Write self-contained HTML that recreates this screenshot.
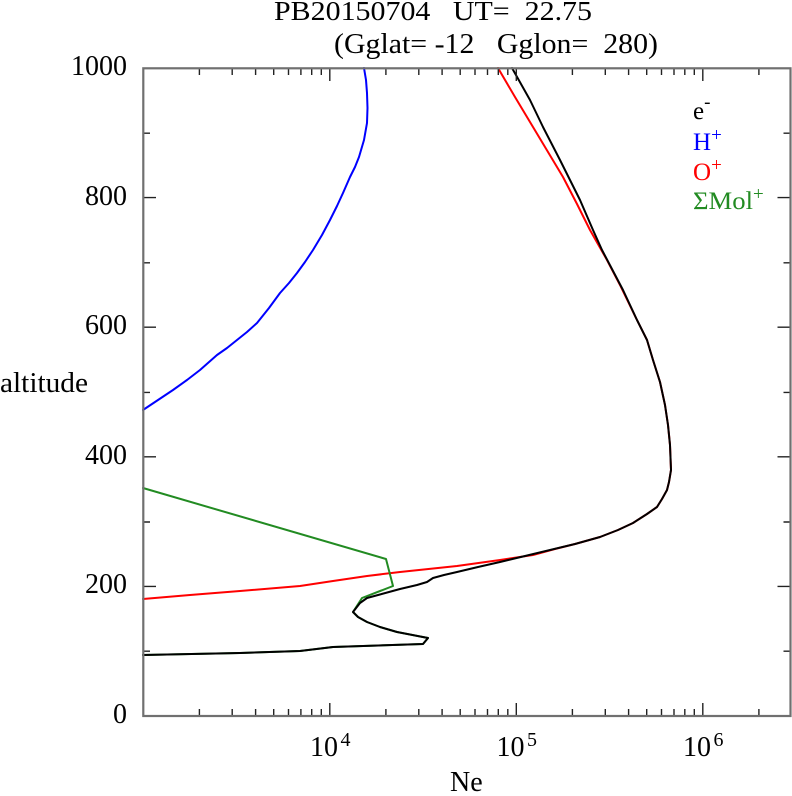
<!DOCTYPE html>
<html>
<head>
<meta charset="utf-8">
<style>
  html, body { margin: 0; padding: 0; background: #ffffff; }
  svg { display: block; }
  text { font-family: "Liberation Serif", "DejaVu Serif", serif; fill: #000; }
</style>
</head>
<body>
<svg width="792" height="796" viewBox="0 0 792 796" xmlns="http://www.w3.org/2000/svg">
  <rect x="0" y="0" width="792" height="796" fill="#ffffff"/>

  <!-- Title -->
  <text x="274" y="20" font-size="27" textLength="318" lengthAdjust="spacingAndGlyphs" xml:space="preserve">PB20150704   UT=  22.75</text>
  <text x="334" y="53" font-size="28" textLength="324" lengthAdjust="spacingAndGlyphs" xml:space="preserve">(Gglat= -12   Gglon=  280)</text>

  <!-- Curves -->
  <g fill="none" stroke-width="2" stroke-linejoin="round" stroke-linecap="round">
    <polyline stroke="#0000ff" points="364,68 366,80 367,93 367.5,108 367,123 364,140 359,157 355,167 350,177 343,193 337,206 330,220 322,235 313,250 305,262 297,273 289,283 280,293 269,308 257,323 247,332 237,340 227,348 217,355 200,370 187,380 173,390 158,400 143,410"/>
    <polyline stroke="#ff0000" points="498,68 515,97 533,127 548,152 563,177 577,204 590,230 607,260 620,285 637,320 647,340 653,360 660,382 665,405 668,425 670,445 671,470 669,482 667,490 662,499 657,507 647,514 633,523 618,530 600,537 575,544 555,549 533,555 500,560 457,566 400,572 367,576 333,581 300,586 240,591 190,595 143,599"/>
    <polyline stroke="#228b22" points="143,488 386,559 393,586 362,598 353,612 358,617 367,622 380,627 397,632 428,638 423,644 333,647 300,651 240,653 143,655"/>
    <polyline stroke="#000000" points="512,68 530,100 543,127 560,160 580,200 593,230 602,250 623,290 637,320 647,340 653,360 660,382 665,405 668,425 670,445 671,470 669,482 667,490 662,499 657,507 647,514 633,523 618,530 600,537 575,544 550,550 525,556 500,562 478,567 457,572 444,575 433,578 427,582 417,585 400,589 367,598 360,603 353,612 358,617 367,622 380,627 397,632 428,638 423,644 333,647 300,651 240,653 143,655"/>
  </g>

  <!-- Ticks -->
  <g stroke="#222" stroke-width="1.4" fill="none">
    <path d="
      M143,133.2 h7 M143,262.8 h7 M143,392.4 h7 M143,522 h7 M143,651.2 h7
      M143,197.6 h13 M143,327.2 h13 M143,456.8 h13 M143,586.4 h13
      M790.5,133.2 h-7 M790.5,262.8 h-7 M790.5,392.4 h-7 M790.5,522 h-7 M790.5,651.2 h-7
      M790.5,197.6 h-13 M790.5,327.2 h-13 M790.5,456.8 h-13 M790.5,586.4 h-13
    "/>
    <path d="
      M199.4,716 v-7 M232.2,716 v-7 M255.6,716 v-7 M273.7,716 v-7 M288.5,716 v-7 M300.9,716 v-7 M311.7,716 v-7 M321.3,716 v-7
      M329.8,716 v-13
      M385.9,716 v-7 M418.8,716 v-7 M442.1,716 v-7 M460.2,716 v-7 M475.0,716 v-7 M487.5,716 v-7 M498.3,716 v-7 M507.8,716 v-7
      M516.3,716 v-13
      M572.4,716 v-7 M605.3,716 v-7 M628.6,716 v-7 M646.7,716 v-7 M661.5,716 v-7 M674.0,716 v-7 M684.8,716 v-7 M694.3,716 v-7
      M702.8,716 v-13
      M758.9,716 v-7
    "/>
    <path d="
      M199.4,68 v7 M232.2,68 v7 M255.6,68 v7 M273.7,68 v7 M288.5,68 v7 M300.9,68 v7 M311.7,68 v7 M321.3,68 v7
      M329.8,68 v13
      M385.9,68 v7 M418.8,68 v7 M442.1,68 v7 M460.2,68 v7 M475.0,68 v7 M487.5,68 v7 M498.3,68 v7 M507.8,68 v7
      M516.3,68 v13
      M572.4,68 v7 M605.3,68 v7 M628.6,68 v7 M646.7,68 v7 M661.5,68 v7 M674.0,68 v7 M684.8,68 v7 M694.3,68 v7
      M702.8,68 v13
      M758.9,68 v7
    "/>
  </g>

  <!-- Frame -->
  <rect x="143.3" y="68.3" width="647.2" height="647.7" fill="none" stroke="#707070" stroke-width="2.2"/>

  <!-- Y tick labels -->
  <g font-size="28" text-anchor="end">
    <text x="127" y="75">1000</text>
    <text x="127" y="205">800</text>
    <text x="127" y="334">600</text>
    <text x="127" y="464">400</text>
    <text x="127" y="593">200</text>
    <text x="127" y="723">0</text>
  </g>

  <text x="0" y="392" font-size="29" textLength="88" lengthAdjust="spacingAndGlyphs">altitude</text>

  <!-- X tick labels -->
  <g font-size="28">
    <text x="310" y="756">10</text>
    <text x="340.5" y="746" font-size="20">4</text>
    <text x="496.5" y="756">10</text>
    <text x="527" y="746" font-size="20">5</text>
    <text x="683" y="756">10</text>
    <text x="713.5" y="746" font-size="20">6</text>
  </g>

  <text x="450" y="791" font-size="28">Ne</text>

  <!-- Legend -->
  <g font-size="25">
    <text x="693" y="119" style="fill:#000000">e<tspan font-size="19" dy="-11">-</tspan></text>
    <text x="693" y="150" style="fill:#0000ff">H<tspan font-size="19" dy="-9">+</tspan></text>
    <text x="693" y="180" style="fill:#ff0000">O<tspan font-size="19" dy="-9">+</tspan></text>
    <text x="693" y="209" style="fill:#228b22"><tspan textLength="60" lengthAdjust="spacingAndGlyphs">ΣMol</tspan><tspan font-size="19" dy="-9">+</tspan></text>
  </g>
</svg>
</body>
</html>
